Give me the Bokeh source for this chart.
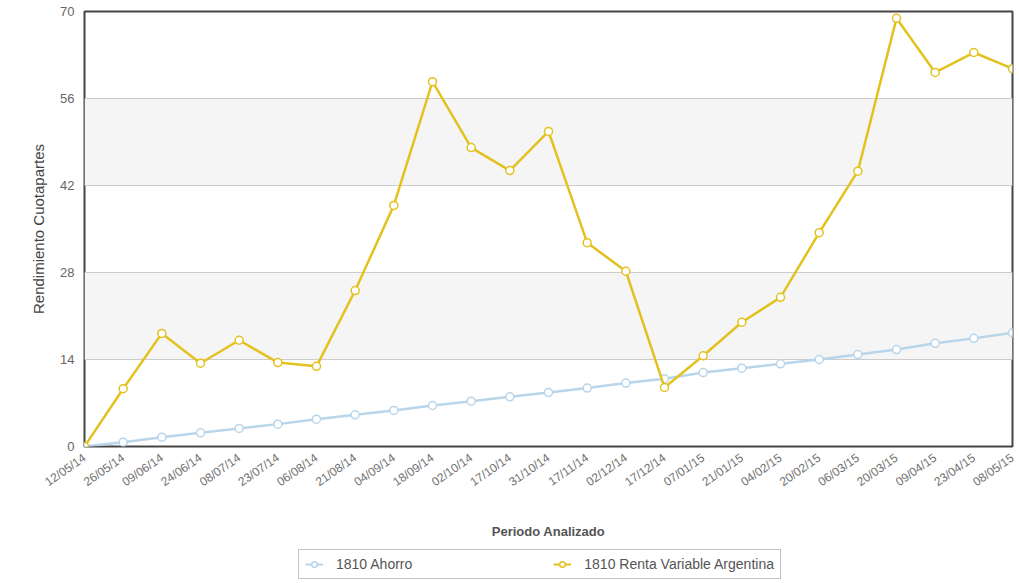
import math
from bokeh.plotting import figure
from bokeh.layouts import column
from bokeh.models import Range1d, FixedTicker, Legend, LegendItem, ColumnDataSource
from bokeh.embed import file_html
from bokeh.resources import INLINE

fechas = ["12/05/14", "26/05/14", "09/06/14", "24/06/14", "08/07/14", "23/07/14",
          "06/08/14", "21/08/14", "04/09/14", "18/09/14", "02/10/14", "17/10/14",
          "31/10/14", "17/11/14", "02/12/14", "17/12/14", "07/01/15", "21/01/15",
          "04/02/15", "20/02/15", "06/03/15", "20/03/15", "09/04/15", "23/04/15",
          "08/05/15"]
ahorro = [0.0, 0.7, 1.5, 2.2, 2.9, 3.6, 4.4, 5.1, 5.8, 6.6, 7.3, 8.0, 8.7,
          9.4, 10.2, 10.9, 11.9, 12.6, 13.3, 14.0, 14.8, 15.6, 16.6, 17.4, 18.3]
renta = [0.0, 9.3, 18.2, 13.4, 17.1, 13.5, 12.9, 25.1, 38.8, 58.7, 48.1, 44.4,
         50.7, 32.8, 28.2, 9.5, 14.6, 20.0, 24.0, 34.4, 44.3, 68.9, 60.2, 63.4, 60.8]
series_names = ["1810 Ahorro", "1810 Renta Variable Argentina"]
y_ticks = [0, 14, 28, 42, 56, 70]

idx = list(range(len(fechas)))
src = ColumnDataSource(dict(x=idx, ahorro=ahorro, renta=renta))

FONT = "Liberation Sans"
BLUE = "#b9d5ea"
GOLD = "#e3c21f"

p = figure(width=1019, height=546, output_backend="svg", toolbar_location=None,
           x_range=Range1d(0, len(fechas) - 1), y_range=Range1d(0, 70),
           min_border_left=84, min_border_right=7, min_border_top=11, min_border_bottom=100)

p.background_fill_color = "white"
p.border_fill_color = "white"
p.outline_line_color = "#444444"
p.outline_line_width = 2

p.xgrid.grid_line_color = None
p.ygrid.grid_line_color = "#cccccc"
p.ygrid.band_fill_color = "#f5f5f5"
p.ygrid.band_fill_alpha = 1.0
p.ygrid.ticker = FixedTicker(ticks=y_ticks)

p.yaxis.ticker = FixedTicker(ticks=y_ticks)
p.yaxis.axis_line_color = None
p.yaxis.major_tick_line_color = None
p.yaxis.minor_tick_line_color = None
p.yaxis.major_label_text_font = FONT
p.yaxis.major_label_text_font_size = "13px"
p.yaxis.major_label_text_color = "#666666"
p.yaxis.major_label_standoff = 4
p.yaxis.axis_label = "Rendimiento Cuotapartes"
p.yaxis.axis_label_text_font = FONT
p.yaxis.axis_label_text_font_size = "15px"
p.yaxis.axis_label_text_font_style = "normal"
p.yaxis.axis_label_text_color = "#444444"
p.yaxis.axis_label_standoff = 10

p.xaxis.ticker = FixedTicker(ticks=idx)
p.xaxis.major_label_overrides = {i: f for i, f in zip(idx, fechas)}
p.xaxis.major_label_orientation = math.radians(35)
p.xaxis.axis_line_color = None
p.xaxis.major_tick_line_color = None
p.xaxis.minor_tick_line_color = None
p.xaxis.major_label_text_font = FONT
p.xaxis.major_label_text_font_size = "12px"
p.xaxis.major_label_text_color = "#707070"
p.xaxis.major_label_standoff = 4
p.xaxis.axis_label = "Periodo Analizado"
p.xaxis.axis_label_text_font = FONT
p.xaxis.axis_label_text_font_size = "13px"
p.xaxis.axis_label_text_font_style = "bold"
p.xaxis.axis_label_text_color = "#555555"
p.xaxis.axis_label_standoff = 26

p.line("x", "ahorro", source=src, line_color=BLUE, line_width=2.5)
p.scatter("x", "ahorro", source=src, size=8, fill_color="white", line_color=BLUE, line_width=1.5)
p.line("x", "renta", source=src, line_color=GOLD, line_width=2.5)
p.scatter("x", "renta", source=src, size=8, fill_color="white", line_color=GOLD, line_width=1.5)

# legend strip below the chart (its renderers sit outside the strip's visible ranges)
lf = figure(width=1019, height=37, output_backend="svg", toolbar_location=None,
            x_axis_type=None, y_axis_type=None, min_border=0,
            x_range=Range1d(-1000, -999), y_range=Range1d(-1000, -999))
lf.outline_line_color = None
lf.background_fill_color = "white"
lf.border_fill_color = "white"
items = []
for name, col, key in zip(series_names, [BLUE, GOLD], ["ahorro", "renta"]):
    lr = lf.line("x", key, source=src, line_color=col, line_width=2)
    sr = lf.scatter("x", key, source=src, size=7, fill_color="white", line_color=col, line_width=1.5)
    items.append(LegendItem(label=name, renderers=[lr, sr]))

legend = Legend(items=items, orientation="horizontal", location=(214, 4),
                label_text_font=FONT, label_text_font_size="14px", label_text_color="#555555",
                border_line_color="#888888", border_line_width=1.2,
                spacing=141, padding=6, margin=0, glyph_width=18, glyph_height=14,
                label_standoff=13, label_height=14)
lf.add_layout(legend, "center")

open("out.html", "w").write(file_html(column(p, lf, spacing=0), INLINE))
